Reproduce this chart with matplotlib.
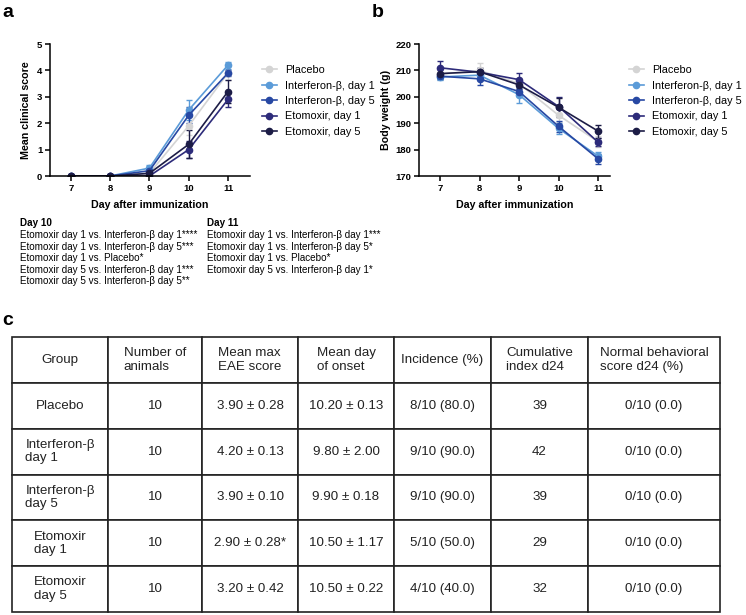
import matplotlib
matplotlib.use("Agg")
import matplotlib.pyplot as plt
from matplotlib import font_manager

days = [7, 8, 9, 10, 11]
groups = ["Placebo", "Interferon-β, day 1", "Interferon-β, day 5",
          "Etomoxir, day 1", "Etomoxir, day 5"]
colors = ["#d4d4d4", "#5b9bd8", "#2748a3", "#2d2b7a", "#1c1c46"]

# panel a: mean clinical score
score_mean = [
    [0, 0, 0.10, 1.90, 3.90],
    [0, 0, 0.30, 2.50, 4.20],
    [0, 0, 0.20, 2.30, 3.90],
    [0, 0, 0.00, 1.00, 2.90],
    [0, 0, 0.10, 1.20, 3.20],
]
score_err = [
    [0, 0, 0.10, 0.35, 0.28],
    [0, 0, 0.10, 0.37, 0.13],
    [0, 0, 0.08, 0.30, 0.10],
    [0, 0, 0.00, 0.33, 0.28],
    [0, 0, 0.08, 0.53, 0.42],
]

# panel b: body weight (g)
weight_mean = [
    [208.5, 210.0, 205.0, 193.0, 183.0],
    [207.5, 208.2, 200.8, 188.0, 177.5],
    [207.8, 206.8, 202.0, 188.8, 176.5],
    [211.0, 209.3, 206.5, 196.3, 182.8],
    [208.8, 209.5, 204.5, 196.0, 187.0],
]
weight_err = [
    [1.5, 2.8, 2.0, 2.5, 2.0],
    [1.0, 1.5, 3.0, 2.0, 1.5],
    [1.2, 2.2, 1.5, 2.0, 1.8],
    [2.7, 1.5, 2.5, 3.5, 1.5],
    [2.0, 1.5, 1.5, 3.5, 2.5],
]

day10_notes = [
    "Etomoxir day 1 vs. Interferon-β day 1****",
    "Etomoxir day 1 vs. Interferon-β day 5***",
    "Etomoxir day 1 vs. Placebo*",
    "Etomoxir day 5 vs. Interferon-β day 1***",
    "Etomoxir day 5 vs. Interferon-β day 5**",
]
day11_notes = [
    "Etomoxir day 1 vs. Interferon-β day 1***",
    "Etomoxir day 1 vs. Interferon-β day 5*",
    "Etomoxir day 1 vs. Placebo*",
    "Etomoxir day 5 vs. Interferon-β day 1*",
]

table_header = ["Group", "Number of\nanimals", "Mean max\nEAE score",
                "Mean day\nof onset", "Incidence (%)", "Cumulative\nindex d24",
                "Normal behavioral\nscore d24 (%)"]
table_groups = ["Placebo", "Interferon-β\nday 1", "Interferon-β\nday 5",
                "Etomoxir\nday 1", "Etomoxir\nday 5"]
n_animals = ["10", "10", "10", "10", "10"]
max_score = ["3.90 ± 0.28", "4.20 ± 0.13", "3.90 ± 0.10", "2.90 ± 0.28*", "3.20 ± 0.42"]
day_onset = ["10.20 ± 0.13", "9.80 ± 2.00", "9.90 ± 0.18", "10.50 ± 1.17", "10.50 ± 0.22"]
incidence = ["8/10 (80.0)", "9/10 (90.0)", "9/10 (90.0)", "5/10 (50.0)", "4/10 (40.0)"]
cum_index = ["39", "42", "39", "29", "32"]
normal_score = ["0/10 (0.0)"] * 5

plt.rcParams["font.family"] = ["Liberation Sans", "DejaVu Sans"]
installed = {f.name for f in font_manager.fontManager.ttflist}
narrow = "Liberation Sans Narrow" if "Liberation Sans Narrow" in installed else None

W, H = 746, 615
fig = plt.figure(figsize=(W / 100, H / 100), dpi=100)


def box(x0, y0, x1, y1):
    # pixel box (top-left origin) -> figure fraction rect
    return [x0 / W, 1 - y1 / H, (x1 - x0) / W, (y1 - y0) / H]


def style_axes(ax):
    for s in ["top", "right"]:
        ax.spines[s].set_visible(False)
    for s in ["left", "bottom"]:
        ax.spines[s].set_linewidth(1.1)
    ax.tick_params(direction="out", length=3.5, width=1.1, labelsize=6.8, pad=2)
    for lab in ax.get_xticklabels() + ax.get_yticklabels():
        lab.set_fontweight("bold")
    ax.set_xticks(days)
    ax.set_xlabel("Day after immunization", fontsize=7.7, fontweight="bold", labelpad=5)


def draw_series(ax, means, errs, legend_x):
    handles = []
    for name, col, m, e in zip(groups, colors, means, errs):
        c = ax.errorbar(days, m, yerr=e, color=col, marker="o", markersize=4.5,
                        linewidth=1.2, elinewidth=1.0, capsize=2.2, capthick=1.0)
        handles.append(c[0])
    # legend shows line + marker only
    ax.legend(handles, groups, loc="upper left", bbox_to_anchor=(legend_x, 0.84),
              frameon=False, fontsize=7.8, handlelength=1.35, handletextpad=0.75,
              labelspacing=0.5, borderaxespad=0, borderpad=0)


ax_a = fig.add_axes(box(50, 44, 250, 176))
draw_series(ax_a, score_mean, score_err, (262 - 50) / 200)
ax_a.set_xlim(6.47, 11.56)
ax_a.set_ylim(0, 5)
ax_a.set_yticks(range(0, 6))
ax_a.set_ylabel("Mean clinical score", fontsize=7.7, fontweight="bold", labelpad=4)
style_axes(ax_a)

ax_b = fig.add_axes(box(419, 44, 610, 176))
draw_series(ax_b, weight_mean, weight_err, (629 - 419) / 191)
ax_b.set_xlim(6.47, 11.30)
ax_b.set_ylim(170, 220)
ax_b.set_yticks(range(170, 221, 10))
ax_b.set_ylabel("Body weight (g)", fontsize=7.7, fontweight="bold", labelpad=3)
style_axes(ax_b)

fig.text(2 / W, 1 - 4 / H, "a", fontsize=14, fontweight="bold", va="top")
fig.text(372 / W, 1 - 4 / H, "b", fontsize=14, fontweight="bold", va="top")
fig.text(2 / W, 1 - 312 / H, "c", fontsize=14, fontweight="bold", va="top")

# significance notes under panel a
for x, title, notes in [(20, "Day 10", day10_notes), (207, "Day 11", day11_notes)]:
    fig.text(x / W, 1 - 218 / H, title, fontsize=7.1, fontweight="bold", va="top")
    fig.text(x / W, 1 - 230 / H, "\n".join(notes), fontsize=7.1, va="top",
             linespacing=1.2)

# panel c: table
ax_t = fig.add_axes(box(12, 337, 720, 612))
ax_t.axis("off")
col_edges = [12, 108, 202, 298, 394, 491, 588, 720]
col_w = [(b - a) / (col_edges[-1] - col_edges[0]) for a, b in zip(col_edges[:-1], col_edges[1:])]
rows = list(zip(table_groups, n_animals, max_score, day_onset, incidence,
                cum_index, normal_score))
tbl = ax_t.table(cellText=[table_header] + [list(r) for r in rows],
                 colWidths=col_w, cellLoc="center", bbox=[0, 0, 1, 1])
tbl.auto_set_font_size(False)
for (r, c), cell in tbl.get_celld().items():
    cell.set_linewidth(1.2)
    cell.set_edgecolor("#222222")
    t = cell.get_text()
    if narrow:
        t.set_fontfamily([narrow, "DejaVu Sans"])
        t.set_fontsize(10.5)
    else:
        t.set_fontsize(9.6)
    t.set_color("#222222")
    t.set_multialignment("left")
    t.set_linespacing(1.15)

fig.savefig("out.png", dpi=100)
